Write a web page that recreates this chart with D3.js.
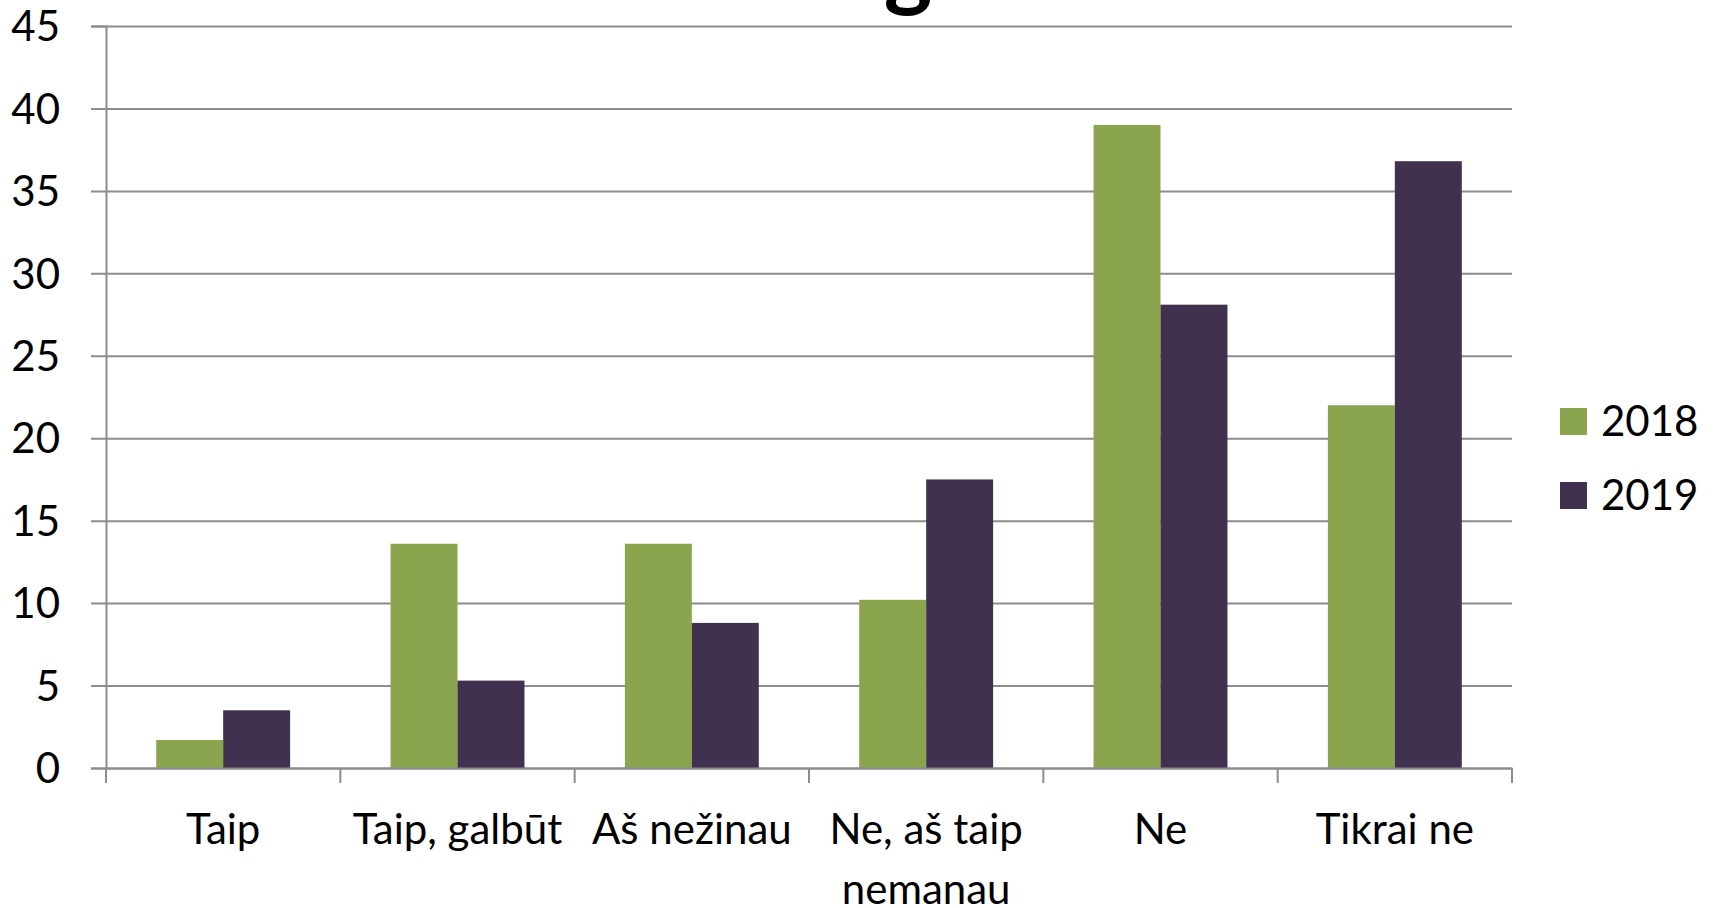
<!DOCTYPE html>
<html>
<head>
<meta charset="utf-8">
<script src="https://cdn.jsdelivr.net/npm/d3@7"></script>
<style>
  body { margin: 0; background: #fff; }
  svg text { font-family: Lato, "Open Sans", sans-serif; fill: #000; }
</style>
</head>
<body>
<div id="chart"></div>
<script>
// categories and values
var categories = ["Taip", "Taip, galbūt", "Aš nežinau", "Ne, aš taip nemanau", "Ne", "Tikrai ne"];
var seriesNames = ["2018", "2019"];
var values2018 = [1.7, 13.6, 13.6, 10.2, 39, 22];
var values2019 = [3.5, 5.3, 8.8, 17.5, 28.1, 36.8];
var yTicks = [0, 5, 10, 15, 20, 25, 30, 35, 40, 45];
var colors = ["#8aa54e", "#40314f"];

var width = 1713, height = 908;
var plotLeft = 106, plotRight = 1512, plotTop = 26, plotBottom = 768;

var svg = d3.select("#chart")
    .append("svg")
    .attr("width", width)
    .attr("height", height);

// title is mostly off the top edge, only the descender shows
svg.append("text")
    .attr("x", 908)
    .attr("y", -1)
    .attr("text-anchor", "middle")
    .style("font-size", "92px")
    .style("font-weight", "bold")
    .text("g");

var y = d3.scaleLinear().domain([0, 45]).range([plotBottom, plotTop]);
var x0 = d3.scaleBand().domain(categories).range([plotLeft, plotRight]);
var x1 = d3.scaleBand().domain(seriesNames).range([0, x0.bandwidth()]).paddingOuter(0.75);

// gridlines + y axis
var yAxis = svg.append("g")
    .attr("transform", "translate(" + plotLeft + ",0)")
    .call(d3.axisLeft(y).tickValues(yTicks).tickSize(15).tickPadding(31));
yAxis.select(".domain").attr("stroke", "#8c8c8c").attr("stroke-width", 2);
yAxis.selectAll(".tick line").attr("stroke", "#8c8c8c").attr("stroke-width", 2)
    .attr("x2", plotRight - plotLeft).attr("x1", -15);
yAxis.selectAll(".tick text").style("font-size", "42px").attr("dy", "0.35em");

// bars
var rows = categories.map(function(c, i) {
    return { cat: c, vals: [values2018[i], values2019[i]] };
});
var groups = svg.selectAll(".grp")
    .data(rows)
    .enter()
    .append("g")
    .attr("transform", function(d) { return "translate(" + x0(d.cat) + ",0)"; });
groups.selectAll("rect")
    .data(function(d) { return d.vals.map(function(v, j) { return { s: seriesNames[j], v: v, j: j }; }); })
    .enter()
    .append("rect")
    .attr("x", function(d) { return x1(d.s); })
    .attr("width", x1.bandwidth())
    .attr("y", function(d) { return y(d.v); })
    .attr("height", function(d) { return plotBottom - y(d.v); })
    .attr("fill", function(d) { return colors[d.j]; });

// x axis with ticks between categories
var xAxis = svg.append("g")
    .attr("transform", "translate(0," + plotBottom + ")")
    .call(d3.axisBottom(x0).tickSize(0).tickFormat(""));
xAxis.select(".domain").attr("stroke", "#8c8c8c").attr("stroke-width", 2);
var bounds = categories.map(function(c) { return x0(c); }).concat([plotRight]);
xAxis.selectAll(".sep")
    .data(bounds)
    .enter()
    .append("line")
    .attr("x1", function(d) { return d; })
    .attr("x2", function(d) { return d; })
    .attr("y1", 0)
    .attr("y2", 15)
    .attr("stroke", "#8c8c8c")
    .attr("stroke-width", 2);

// category labels, wrapped like the original
var labelLines = {
    "Ne, aš taip nemanau": ["Ne, aš taip", "nemanau"]
};
categories.forEach(function(c) {
    var lines = labelLines[c] || [c];
    var t = svg.append("text")
        .attr("text-anchor", "middle")
        .style("font-size", "42px");
    lines.forEach(function(l, k) {
        t.append("tspan")
            .attr("x", x0(c) + x0.bandwidth() / 2)
            .attr("y", 844 + k * 60)
            .text(l);
    });
});

// legend
var legend = svg.selectAll(".leg")
    .data(seriesNames)
    .enter()
    .append("g")
    .attr("transform", function(d, i) { return "translate(1560," + (408 + i * 74) + ")"; });
legend.append("rect")
    .attr("width", 27)
    .attr("height", 27)
    .attr("fill", function(d, i) { return colors[i]; });
legend.append("text")
    .attr("x", 41)
    .attr("y", 28)
    .style("font-size", "42px")
    .text(function(d) { return d; });
</script>
</body>
</html>
